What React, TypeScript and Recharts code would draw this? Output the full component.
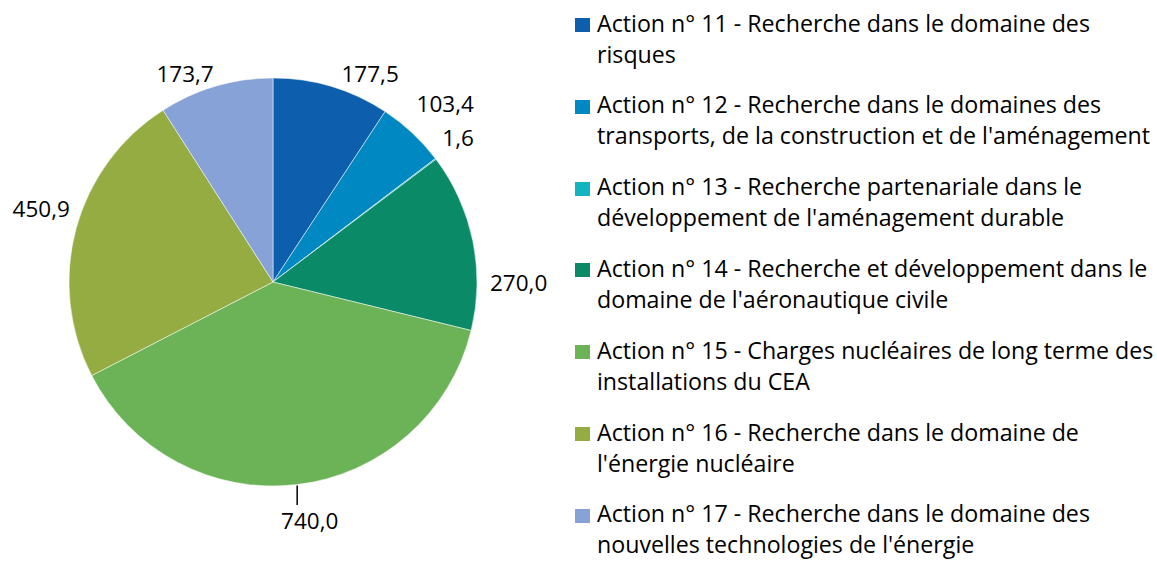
import { PieChart, Pie, Cell, Legend } from "recharts";

const actions = [
  "Action n° 11 - Recherche dans le domaine des\nrisques",
  "Action n° 12 - Recherche dans le domaines des\ntransports, de la construction et de l'aménagement",
  "Action n° 13 - Recherche partenariale dans le\ndéveloppement de l'aménagement durable",
  "Action n° 14 - Recherche et développement dans le\ndomaine de l'aéronautique civile",
  "Action n° 15 - Charges nucléaires de long terme des\ninstallations du CEA",
  "Action n° 16 - Recherche dans le domaine de\nl'énergie nucléaire",
  "Action n° 17 - Recherche dans le domaine des\nnouvelles technologies de l'énergie",
];
const amounts = [177.5, 103.4, 1.6, 270.0, 740.0, 450.9, 173.7];
const colors = ["#0D5FAD", "#0088C2", "#13B4BF", "#0A8A67", "#6BB356", "#95AC43", "#87A2D6"];

// label tweaks (dx, dy) to follow the reference's placement
const labelNudge: [number, number][] = [
  [6, 1], [-2, -17], [-1, -9], [9, 51], [-19, 22], [2, -11], [2, 1],
];
const leaderLine = [false, false, false, false, true, false, false];

const data = actions.map((name, i) => ({ name, value: amounts[i] }));

const FONT = "'Open Sans', sans-serif";
const FS = 22.5;
const LEGEND_FS = 23.2;
const RAD = Math.PI / 180;

const fmt = (v: number) => v.toFixed(1).replace(".", ",");

const renderLabel = (props: any) => {
  const { cx, cy, midAngle, outerRadius, index, value } = props;
  const dx = Math.cos(-midAngle * RAD);
  const dy = Math.sin(-midAngle * RAD);
  const txt = fmt(value);
  const w = txt.length * FS * 0.55;
  const h = FS * 0.75;
  const px = cx + (outerRadius + 6) * dx;
  const py = cy + (outerRadius + 6) * dy;
  let x = px + (dx >= 0 ? w / 2 : -w / 2);
  let y = py + (dy >= 0 ? h / 2 : -h / 2);
  x += labelNudge[index][0];
  y += labelNudge[index][1];
  const ex = cx + (outerRadius + 1) * dx;
  const ey = cy + (outerRadius + 1) * dy;
  return (
    <g key={`lbl-${index}`}>
      {leaderLine[index] && (
        <line x1={ex} y1={ey} x2={ex} y2={y - 16} stroke="#000" strokeWidth={1.5} />
      )}
      <text
        x={x}
        y={y}
        textAnchor="middle"
        dominantBaseline="central"
        fontFamily={FONT}
        fontSize={FS}
        fill="#000"
      >
        {txt}
      </text>
    </g>
  );
};

const renderLegend = (props: any) => {
  const { payload } = props;
  return (
    <div style={{ position: "relative", fontFamily: FONT, fontSize: LEGEND_FS, color: "#000" }}>
      {payload.map((entry: any, i: number) => (
        <div key={i} style={{ position: "absolute", left: 0, top: i * 81.8, width: 584 }}>
          <div
            style={{
              position: "absolute",
              left: 0,
              top: 18,
              width: 15,
              height: 14,
              background: entry.color,
            }}
          />
          <div
            style={{
              position: "absolute",
              left: 22,
              top: 7.5,
              lineHeight: "31px",
              whiteSpace: "pre",
            }}
          >
            {entry.value}
          </div>
        </div>
      ))}
    </div>
  );
};

export default function App() {
  return (
    <div style={{ position: "absolute", left: 0, top: 0, width: 1157, height: 561, background: "#fff", overflow: "hidden" }}>
      <PieChart width={1157} height={561} margin={{ top: 0, right: 0, bottom: 0, left: 0 }}>
        <Pie
          data={data}
          dataKey="value"
          nameKey="name"
          cx={273}
          cy={282}
          outerRadius={204}
          startAngle={90}
          endAngle={-270}
          stroke="#fff"
          strokeWidth={0.5}
          label={renderLabel}
          labelLine={false}
          isAnimationActive={false}
        >
          {data.map((d, i) => (
            <Cell key={d.name} fill={colors[i]} />
          ))}
        </Pie>
        <Legend
          layout="vertical"
          align="right"
          verticalAlign="top"
          content={renderLegend}
          wrapperStyle={{ left: 575, top: 0, width: 582, height: 561 }}
        />
      </PieChart>
    </div>
  );
}
